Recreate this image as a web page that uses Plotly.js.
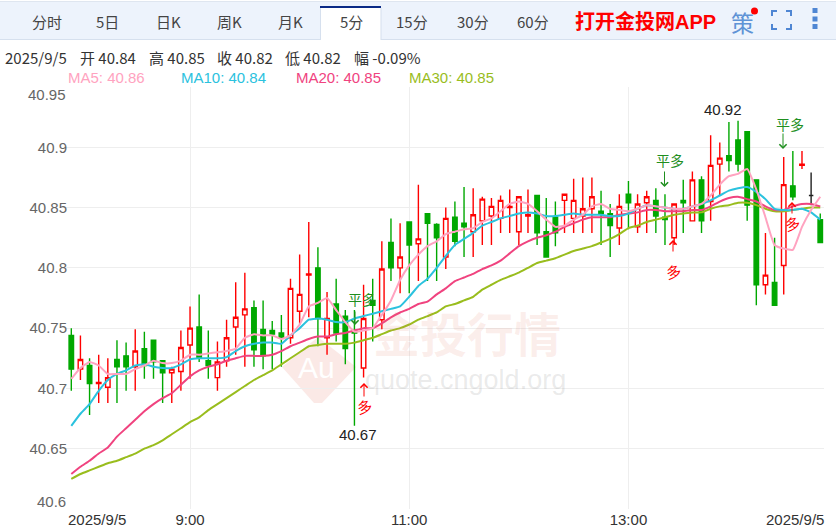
<!DOCTYPE html>
<html>
<head>
<meta charset="utf-8">
<script src="https://cdn.plot.ly/plotly-3.0.1.min.js"></script>
<style>
    html, body { margin: 0; padding: 0; background: #fff; }
    #chart { width: 836px; height: 528px; }
</style>
</head>
<body>
<div id="chart"></div>
<script>
// ==========================================================
// DATA (5 minute bars)
// ==========================================================

const opens = [
    40.744,40.716,40.719,40.704,40.701,40.724,40.727,40.718,40.733,40.740,
    40.723,40.713,40.714,40.736,40.751,40.723,40.709,40.723,40.751,40.761,
    40.767,40.749,40.748,40.746,40.742,40.764,40.794,40.800,40.742,40.770,
    40.760,40.748,40.717,40.773,40.757,40.821,40.800,40.838,40.820,40.845,
    40.836,40.809,40.842,40.837,40.830,40.839,40.843,40.841,40.850,40.830,
    40.843,40.860,40.830,40.842,40.856,40.841,40.843,40.849,40.847,40.845,
    40.833,40.861,40.834,40.854,40.856,40.842,40.825,40.856,40.839,40.873,
    40.855,40.886,40.893,40.906,40.913,40.873,40.786,40.788,40.802,40.868,
    40.885,40.860,40.840
];
const highs = [
    40.750,40.744,40.725,40.728,40.725,40.740,40.738,40.749,40.747,40.740,
    40.723,40.718,40.748,40.768,40.778,40.748,40.739,40.757,40.788,40.796,
    40.773,40.773,40.756,40.761,40.791,40.811,40.838,40.817,40.780,40.791,
    40.765,40.765,40.786,40.791,40.822,40.841,40.837,40.838,40.869,40.845,
    40.837,40.850,40.855,40.867,40.866,40.859,40.858,40.860,40.865,40.859,
    40.865,40.860,40.858,40.855,40.861,40.874,40.875,40.875,40.864,40.853,
    40.861,40.872,40.861,40.864,40.866,40.861,40.853,40.873,40.880,40.876,
    40.910,40.904,40.921,40.922,40.913,40.873,40.829,40.825,40.892,40.897,
    40.897,40.879,40.845
];
const lows = [
    40.698,40.707,40.678,40.688,40.688,40.688,40.698,40.698,40.708,40.708,
    40.688,40.688,40.698,40.708,40.722,40.708,40.698,40.718,40.728,40.718,
    40.718,40.716,40.716,40.718,40.737,40.753,40.759,40.735,40.728,40.739,
    40.720,40.669,40.709,40.739,40.749,40.789,40.779,40.779,40.789,40.789,
    40.789,40.799,40.818,40.809,40.809,40.819,40.819,40.829,40.829,40.819,
    40.829,40.819,40.809,40.818,40.829,40.829,40.829,40.829,40.819,40.809,
    40.819,40.832,40.829,40.829,40.829,40.819,40.819,40.829,40.839,40.829,
    40.839,40.860,40.880,40.880,40.839,40.769,40.778,40.769,40.778,40.856,
    40.882,40.852,40.821
];
const closes = [
    40.716,40.724,40.704,40.705,40.709,40.718,40.718,40.731,40.719,40.722,
    40.713,40.716,40.734,40.750,40.725,40.719,40.722,40.742,40.759,40.766,
    40.732,40.727,40.745,40.742,40.783,40.778,40.795,40.758,40.758,40.746,
    40.733,40.746,40.758,40.769,40.799,40.800,40.809,40.819,40.824,40.837,
    40.825,40.841,40.822,40.834,40.844,40.857,40.851,40.856,40.851,40.859,
    40.844,40.829,40.809,40.829,40.861,40.856,40.849,40.859,40.845,40.835,
    40.851,40.854,40.853,40.859,40.843,40.840,40.853,40.854,40.873,40.839,
    40.885,40.891,40.889,40.886,40.852,40.786,40.794,40.769,40.869,40.859,
    40.886,40.860,40.821
];

const ma5 = [
    40.708,40.717,40.722,40.719,40.712,40.712,40.712,40.716,40.719,40.723,
    40.721,40.721,40.723,40.728,40.728,40.729,40.730,40.731,40.733,40.742,
    40.745,40.744,40.744,40.741,40.744,40.753,40.768,40.771,40.775,40.765,
    40.755,40.747,40.748,40.750,40.761,40.773,40.790,40.802,40.811,40.818,
    40.822,40.828,40.830,40.832,40.833,40.838,40.841,40.847,40.853,40.855,
    40.853,40.847,40.840,40.834,40.835,40.840,40.844,40.851,40.853,40.849,
    40.848,40.847,40.849,40.852,40.851,40.850,40.849,40.849,40.851,40.853,
    40.860,40.869,40.876,40.878,40.882,40.865,40.842,40.819,40.816,40.815,
    40.834,40.848,40.859
];
const ma10 = [
    40.669,40.679,40.687,40.698,40.707,40.712,40.715,40.719,40.720,40.718,
    40.717,40.717,40.720,40.724,40.725,40.725,40.725,40.726,40.731,40.735,
    40.737,40.738,40.738,40.737,40.744,40.750,40.757,40.758,40.757,40.755,
    40.755,40.758,40.760,40.762,40.764,40.766,40.768,40.776,40.785,40.791,
    40.800,40.810,40.819,40.824,40.829,40.835,40.838,40.841,40.843,40.845,
    40.846,40.845,40.843,40.843,40.844,40.845,40.844,40.844,40.844,40.843,
    40.843,40.845,40.849,40.852,40.851,40.850,40.849,40.849,40.851,40.853,
    40.856,40.860,40.864,40.866,40.867,40.863,40.857,40.849,40.848,40.848,
    40.849,40.846,40.840
];
const ma20 = [
    40.629,40.635,40.640,40.646,40.651,40.660,40.667,40.674,40.681,40.687,
    40.692,40.696,40.703,40.710,40.715,40.718,40.720,40.723,40.725,40.727,
    40.727,40.727,40.728,40.731,40.735,40.738,40.741,40.743,40.743,40.745,
    40.746,40.748,40.750,40.750,40.754,40.759,40.763,40.766,40.770,40.772,
    40.778,40.783,40.789,40.792,40.795,40.799,40.802,40.806,40.812,40.818,
    40.822,40.825,40.827,40.830,40.834,40.837,40.840,40.842,40.842,40.842,
    40.844,40.845,40.846,40.848,40.848,40.847,40.847,40.847,40.848,40.848,
    40.851,40.855,40.858,40.859,40.857,40.855,40.851,40.848,40.848,40.851,
    40.853,40.853,40.851
];
const ma30 = [
    40.625,40.629,40.632,40.635,40.638,40.640,40.643,40.646,40.650,40.653,
    40.657,40.662,40.667,40.672,40.676,40.682,40.687,40.692,40.697,40.702,
    40.707,40.711,40.715,40.720,40.725,40.730,40.735,40.736,40.737,40.737,
    40.737,40.738,40.740,40.742,40.745,40.748,40.750,40.753,40.757,40.760,
    40.763,40.768,40.770,40.773,40.776,40.782,40.786,40.790,40.793,40.796,
    40.800,40.804,40.806,40.808,40.811,40.814,40.816,40.818,40.821,40.824,
    40.828,40.833,40.835,40.838,40.840,40.842,40.844,40.845,40.846,40.846,
    40.849,40.851,40.852,40.854,40.854,40.852,40.849,40.847,40.847,40.848,
    40.849,40.850,40.850
];

const yTicks = [40.6, 40.65, 40.7, 40.75, 40.8, 40.85, 40.9, 40.95];
const yTickText = ["", "40.65", "40.7", "40.75", "40.8", "40.85", "40.9", ""];
const xTicks = [13, 37, 61];
const xTickText = ["9:00", "11:00", "13:00"];

const tabs = ["分时", "5日", "日K", "周K", "月K", "5分", "15分", "30分", "60分"];
const quoteItems = ["2025/9/5", "开 40.84", "高 40.85", "收 40.82", "低 40.82", "幅 -0.09%"];
const maLegend = ["MA5: 40.86", "MA10: 40.84", "MA20: 40.85", "MA30: 40.85"];

const dayLabel = "2025/9/5";
const highLabel = "40.92";
const lowLabel = "40.67";


// ==========================================================
// HELPERS
// ==========================================================

const barIndex = opens.map((v, i) => i);
const blackBar = 81;

const W = 836, H = 528;
const plotLeft = 66, plotRight = 824, plotTop = 87, plotBottom = 509;

const MA_COLORS = ["#ffa3c0", "#2bc2de", "#f0437f", "#99bd1d"];
const RED = "#ff0000", GREEN = "#00a800", SIGNAL_GREEN = "#1f8f1f";
const CJK = "'Noto Sans CJK SC', sans-serif";
const SANS = "'Liberation Sans', Arial, sans-serif";

// pixel position of the page -> paper coordinate
function px(x){ return (x - plotLeft) / (plotRight - plotLeft); }
function py(y){ return (plotBottom - y) / (plotBottom - plotTop); }

function label(text, x, y, opts){
    opts = opts || {};
    return {
        text: text,
        xref: "paper", yref: "paper",
        x: px(x), y: py(y),
        xanchor: opts.anchor || "center",
        yanchor: "middle",
        showarrow: false,
        textangle: opts.angle || 0,
        borderpad: 0,
        font: {
            family: opts.family || CJK,
            size: opts.size || 15,
            color: opts.color || "#333"
        }
    };
}

function arrow(x, y0, y1, color){
    return {
        text: "",
        xref: "paper", yref: "paper",
        x: px(x), y: py(y1),
        axref: "pixel", ayref: "pixel",
        ax: 0, ay: y0 - y1,
        showarrow: true,
        arrowhead: 4, arrowsize: 1.4, arrowwidth: 1,
        arrowcolor: color
    };
}

function box(x0, y0, x1, y1, fill){
    return {
        type: "rect", layer: "below",
        xref: "paper", yref: "paper",
        x0: px(x0), x1: px(x1), y0: py(y0), y1: py(y1),
        fillcolor: fill, line: {width: 0}
    };
}

function pathShape(points, style, layer){
    let d = points.map((p, i) =>
        (i ? "L" : "M") + px(p[0]) + "," + py(p[1])
    ).join(" ");
    return Object.assign({
        type: "path", layer: layer || "above",
        xref: "paper", yref: "paper",
        path: d
    }, style);
}


// ==========================================================
// TRACES
// ==========================================================

function candleTrace(keep, incColor, incFill, decColor, decFill){
    let pick = arr => barIndex.filter(keep).map(i => arr[i]);
    return {
        type: "candlestick",
        x: barIndex.filter(keep),
        open: pick(opens), high: pick(highs), low: pick(lows), close: pick(closes),
        increasing: {line: {color: incColor, width: 1.4}, fillcolor: incFill},
        decreasing: {line: {color: decColor, width: 1.4}, fillcolor: decFill},
        hoverinfo: "skip",
        showlegend: false
    };
}

function maTrace(values, color){
    return {
        type: "scatter", mode: "lines",
        x: barIndex, y: values,
        line: {color: color, width: 2, shape: "spline", smoothing: 0.4},
        hoverinfo: "skip",
        showlegend: false
    };
}

let traces = [
    candleTrace(i => i !== blackBar, RED, "#ffffff", GREEN, GREEN),
    candleTrace(i => i === blackBar, "#222222", "#222222", "#222222", "#222222"),
    maTrace(ma30, MA_COLORS[3]),
    maTrace(ma20, MA_COLORS[2]),
    maTrace(ma10, MA_COLORS[1]),
    maTrace(ma5, MA_COLORS[0])
];


// ==========================================================
// PAGE FURNITURE (tab bar, quote line, watermark, signals)
// ==========================================================

let shapes = [
    // tab bar
    box(0, 2, 836, 40, "#edf3fc"),
    box(0, 1, 836, 2, "#dfe6f0"),
    box(0, 39, 836, 40, "#d6e0ee"),
    box(320.5, 6, 381, 40, "#ffffff"),
    box(320, 6, 381, 8, "#0b2a86"),
    box(320, 8, 321, 40, "#d6e0ee"),
    box(380.5, 8, 381.5, 40, "#d6e0ee"),
    // watermark diamond
    pathShape(
        [[282, 367], [318, 337], [356, 367], [322, 403], [314, 403]],
        {fillcolor: "#fbe9e6", line: {width: 0}},
        "below"
    ),
    // notification dot
    {
        type: "circle", xref: "paper", yref: "paper",
        x0: px(751), x1: px(758), y0: py(7.5), y1: py(14.5),
        fillcolor: "#ff0000", line: {width: 0}
    }
];

// full screen corners and the three dots of the menu
const ICON_BLUE = "#4f86d3";
[
    [[772, 16], [772, 11], [777, 11]],
    [[786, 11], [791, 11], [791, 16]],
    [[772, 24], [772, 29], [777, 29]],
    [[786, 29], [791, 29], [791, 24]]
].forEach(points => {
    shapes.push(pathShape(points, {line: {color: ICON_BLUE, width: 2}}));
});
[10.5, 19, 26.5].forEach(y => {
    shapes.push({
        type: "rect", xref: "paper", yref: "paper",
        x0: px(812.5), x1: px(817.5), y0: py(y - 2.5), y1: py(y + 2.5),
        fillcolor: ICON_BLUE, line: {width: 0}
    });
});

let annotations = [];

tabs.forEach((t, i) => {
    annotations.push(label(t, 47 + i * 60.8, 22, {size: 15, color: "#444"}));
});
annotations.push(label("<b>打开金投网APP</b>", 645.5, 22, {
    size: 20, color: "#ff0000", family: "'Liberation Sans', 'Noto Sans CJK SC', sans-serif"
}));
annotations.push(label("策", 742.5, 22, {size: 23, color: "#5f93d6"}));

const quoteX = [4, 79, 148, 216, 284, 353];
quoteItems.forEach((t, i) => {
    annotations.push(label(t, quoteX[i], 58, {anchor: "left", size: 15, color: "#333"}));
});

const legendX = [67, 180, 295, 408];
maLegend.forEach((t, i) => {
    annotations.push(label(t, legendX[i], 78, {
        anchor: "left", size: 15, color: MA_COLORS[i], family: SANS
    }));
});

// end labels of the axes sit inside the plot's span
annotations.push(label("40.95", 66.5, 94, {anchor: "right", color: "#666", family: SANS}));
annotations.push(label("40.6", 66.5, 501, {anchor: "right", color: "#666", family: SANS}));
annotations.push(label(dayLabel, 67, 519, {anchor: "left", color: "#333", family: SANS}));
annotations.push(label(dayLabel, 825, 519, {anchor: "right", color: "#333", family: SANS}));

// high and low of the session
annotations.push(label(highLabel, 723, 110, {color: "#222", family: SANS}));
annotations.push(label(lowLabel, 358, 434, {color: "#222", family: SANS}));

// watermark
const WM_RED = "rgba(226,120,100,0.13)";
annotations.push(label("<b>金投行情</b>", 467, 331, {size: 47, color: WM_RED}));
annotations.push(label("quote.cngold.org", 465, 380, {
    size: 27, color: "rgba(150,150,150,0.2)", family: SANS
}));
annotations.push(label("Au", 316, 367, {size: 30, color: "#ffffff", family: SANS}));

// trade signals
[[361.5, 299], [670, 160], [789.5, 124]].forEach(p => {
    annotations.push(label("平多", p[0], p[1], {size: 14, color: SIGNAL_GREEN}));
});
annotations.push(arrow(355, 310, 325, SIGNAL_GREEN));
annotations.push(arrow(664.5, 170, 187, SIGNAL_GREEN));
annotations.push(arrow(783, 132, 149, SIGNAL_GREEN));

[[364, 406], [673, 271], [792, 224]].forEach(p => {
    annotations.push(label("多", p[0], p[1], {size: 15, color: RED, angle: -12}));
});
annotations.push(arrow(364, 398, 383, RED));
annotations.push(arrow(673, 253, 240, RED));
annotations.push(arrow(792, 215, 202, RED));


// ==========================================================
// LAYOUT
// ==========================================================

let layout = {
    width: W,
    height: H,
    margin: {l: plotLeft, r: W - plotRight, t: plotTop, b: H - plotBottom, pad: 0},
    paper_bgcolor: "#ffffff",
    plot_bgcolor: "rgba(0,0,0,0)",
    showlegend: false,
    xaxis: {
        type: "linear",
        range: [-0.58, 82.41],
        tickmode: "array",
        tickvals: xTicks,
        ticktext: xTickText,
        showgrid: true,
        gridcolor: "#eeeeee",
        gridwidth: 1,
        zeroline: false,
        showline: false,
        ticks: "",
        fixedrange: true,
        rangeslider: {visible: false},
        tickfont: {family: SANS, size: 15, color: "#333"}
    },
    yaxis: {
        range: [40.6, 40.95],
        tickmode: "array",
        tickvals: yTicks,
        ticktext: yTickText,
        showgrid: true,
        gridcolor: "#eeeeee",
        gridwidth: 1,
        zeroline: false,
        showline: false,
        ticks: "",
        fixedrange: true,
        ticklabelstandoff: -2,
        ticklabelshift: 1.5,
        tickfont: {family: SANS, size: 15, color: "#666"}
    },
    shapes: shapes,
    annotations: annotations
};

Plotly.newPlot("chart", traces, layout, {displayModeBar: false, staticPlot: true});
</script>
</body>
</html>
